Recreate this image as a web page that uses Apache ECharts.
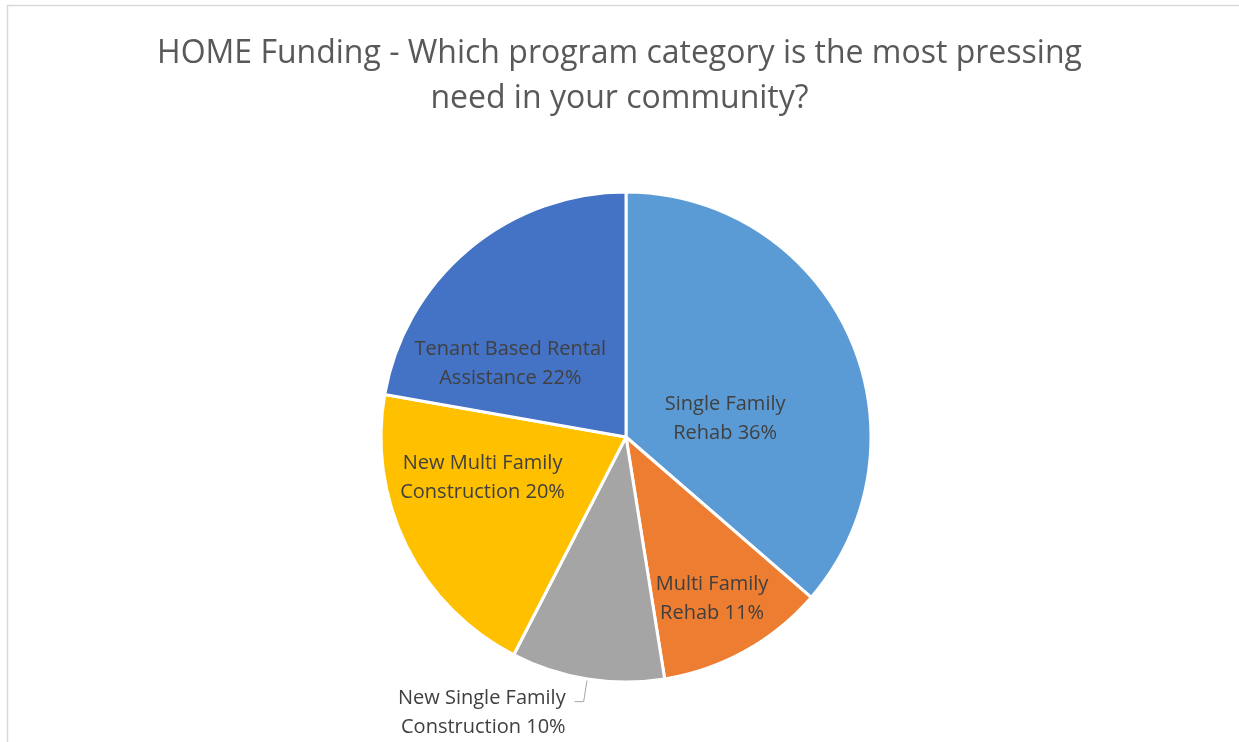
<!DOCTYPE html>
<html>
<head>
<meta charset="utf-8">
<style>
  html, body { margin: 0; padding: 0; background: #ffffff; }
  #chart { width: 1239px; height: 742px; }
</style>
<script src="https://cdn.jsdelivr.net/npm/echarts@6/dist/echarts.min.js"></script>
</head>
<body>
<div id="chart"></div>
<script>
// Survey answers: share of respondents per HOME program category (%)
const categories = [
  'Single Family\nRehab',
  'Multi Family\nRehab',
  'New Single Family\nConstruction',
  'New Multi Family\nConstruction',
  'Tenant Based Rental\nAssistance'
];
const shares = [36, 11, 10, 20, 22];
const sliceColors = ['#5B9BD5', '#ED7D31', '#A5A5A5', '#FFC000', '#4472C4'];

const chartTitle = 'HOME Funding - Which program category is the most pressing\nneed in your community?';

// Nudges applied to each label, relative to its default spot
const labelNudge = [[-15, 34], [25, 52], [-4, 11], [-31, -15], [-35, 23]];

const chart = echarts.init(document.getElementById('chart'), null, { renderer: 'canvas' });

const seriesData = categories.map((name, i) => {
  const item = {
    name: name,
    value: shares[i],
    itemStyle: { color: sliceColors[i] }
  };
  if (i === 2) {
    // the thin grey slice carries its label outside with a leader line
    item.label = {
      position: 'outside',
      alignTo: 'none',
      align: 'right'
    };
    item.labelLine = { show: true, length: 23, length2: 9 };
  }
  return item;
});

chart.setOption({
  animation: false,
  backgroundColor: '#ffffff',
  graphic: [{
    type: 'rect',
    shape: { x: 7.5, y: 5.5, width: 1300, height: 800 },
    style: { fill: 'none', stroke: '#d9d9d9', lineWidth: 1.5 },
    silent: true
  }],
  title: {
    text: chartTitle,
    left: 'center',
    top: 26,
    textStyle: {
      fontFamily: 'Open Sans',
      fontWeight: 'normal',
      fontSize: 32,
      lineHeight: 45,
      color: '#595959'
    }
  },
  series: [{
    type: 'pie',
    center: [626, 437],
    radius: 245,
    startAngle: 90,
    clockwise: true,
    itemStyle: { borderColor: '#ffffff', borderWidth: 3 },
    label: {
      show: true,
      position: 'inside',
      formatter: p => p.name + ' ' + p.value + '%',
      fontFamily: 'Open Sans',
      fontSize: 20,
      lineHeight: 29,
      color: '#404040',
      align: 'center'
    },
    labelLine: {
      show: true,
      lineStyle: { color: '#a6a6a6', width: 1 }
    },
    labelLayout: params => {
      const n = labelNudge[params.dataIndex];
      return { dx: n[0], dy: n[1] };
    },
    emphasis: { disabled: true },
    data: seriesData
  }]
});
</script>
</body>
</html>
